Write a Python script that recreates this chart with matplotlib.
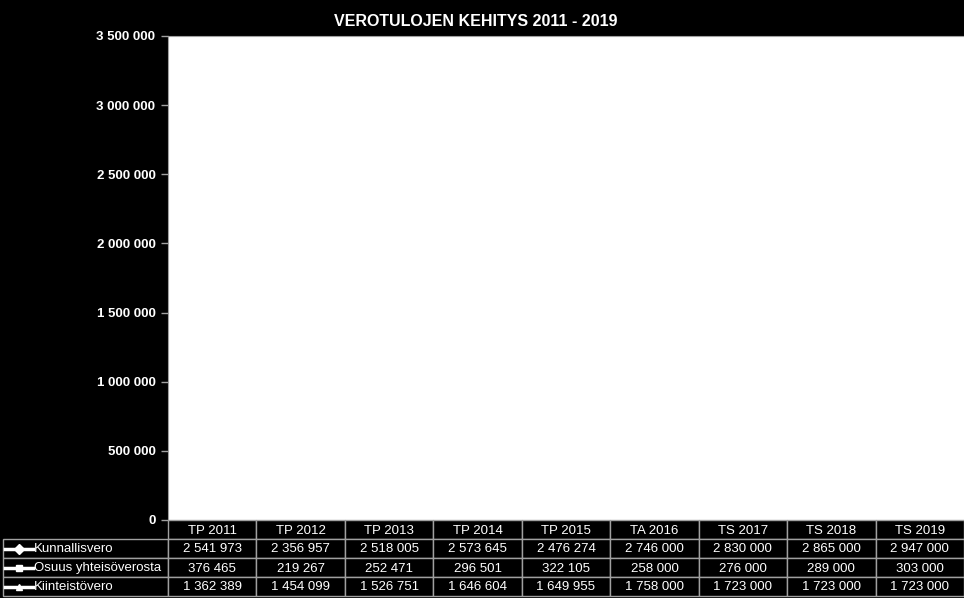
import matplotlib.pyplot as plt
from matplotlib.lines import Line2D
from matplotlib.patches import Rectangle
import numpy as np

plt.rcParams['font.family'] = ['Liberation Sans', 'DejaVu Sans']

years = ['TP 2011', 'TP 2012', 'TP 2013', 'TP 2014', 'TP 2015',
         'TA 2016', 'TS 2017', 'TS 2018', 'TS 2019']
series_names = ['Kunnallisvero', 'Osuus yhteisöverosta', 'Kiinteistövero']
kunnallisvero = [2541973, 2356957, 2518005, 2573645, 2476274,
                 2746000, 2830000, 2865000, 2947000]
yhteisovero = [376465, 219267, 252471, 296501, 322105,
               258000, 276000, 289000, 303000]
kiinteistovero = [1362389, 1454099, 1526751, 1646604, 1649955,
                  1758000, 1723000, 1723000, 1723000]
yticks = [0, 500000, 1000000, 1500000, 2000000, 2500000, 3000000, 3500000]


def fmt(v):
    return '{:,}'.format(v).replace(',', ' ')


W, H = 964, 598
GRID = '#a0a0a0'
fig = plt.figure(figsize=(W / 100, H / 100), dpi=100, facecolor='black')
ax_l, ax_r, ax_t, ax_b = 168, 964, 36, 520
ax = fig.add_axes([ax_l / W, 1 - ax_b / H, (ax_r - ax_l) / W, (ax_b - ax_t) / H])
ax.set_facecolor('white')

markers = ['D', 's', '^']
data = [kunnallisvero, yhteisovero, kiinteistovero]
x = np.arange(len(years))
for vals, m in zip(data, markers):
    ax.plot(x, vals, color='white', marker=m, markersize=5, lw=2)

ax.set_xlim(-0.5, len(years) - 0.5)
ax.set_ylim(0, 3500000)
ax.set_yticks(yticks)
ax.set_yticklabels([fmt(v) for v in yticks], fontsize=9.5, fontweight='bold')
ax.tick_params(axis='y', colors=GRID, length=5, width=1, pad=4,
               labelcolor='white')
ax.set_xticks([])
for s in ['left', 'top']:
    ax.spines[s].set_color(GRID)
for s in ['right', 'bottom']:
    ax.spines[s].set_visible(False)

fig.text(476 / W, 1 - 21 / H, 'VEROTULOJEN KEHITYS 2011 - 2019', color='white',
         fontsize=11.5, fontweight='bold', ha='center', va='center')


# data table under the plot, drawn in pixel coordinates
def px(xp, yp):
    return xp / W, 1 - yp / H


def cell(x0, y0, w, h):
    fig.add_artist(Rectangle(px(x0, y0 + h), w / W, h / H, facecolor='black',
                             edgecolor=GRID, lw=1))


row_h = 19
tb_left = 3
col_w = (ax_r - ax_l) / len(years)

for j, lab in enumerate(years):
    cx = ax_l + j * col_w
    cell(cx, ax_b, col_w, row_h)
    fig.text(*px(cx + col_w / 2, ax_b + row_h / 2 + 1), lab, color='white',
             fontsize=9.5, ha='center', va='center')

for i, (name, vals, m) in enumerate(zip(series_names, data, markers)):
    y0 = ax_b + (i + 1) * row_h
    yc = y0 + row_h / 2
    cell(tb_left, y0, ax_l - tb_left, row_h)
    fig.text(*px(34, yc + 1), name, color='white', fontsize=9.5,
             ha='left', va='center')
    fig.add_artist(Line2D([5 / W, 33 / W], [1 - yc / H] * 2, color='white', lw=2.5))
    fig.add_artist(Line2D([19 / W], [1 - yc / H], color='white', marker=m,
                          markersize=5))
    for j, v in enumerate(vals):
        cx = ax_l + j * col_w
        cell(cx, y0, col_w, row_h)
        fig.text(*px(cx + col_w / 2, yc + 1), fmt(v), color='white',
                 fontsize=9.5, ha='center', va='center')

fig.savefig('out.png', dpi=100, facecolor='black')
